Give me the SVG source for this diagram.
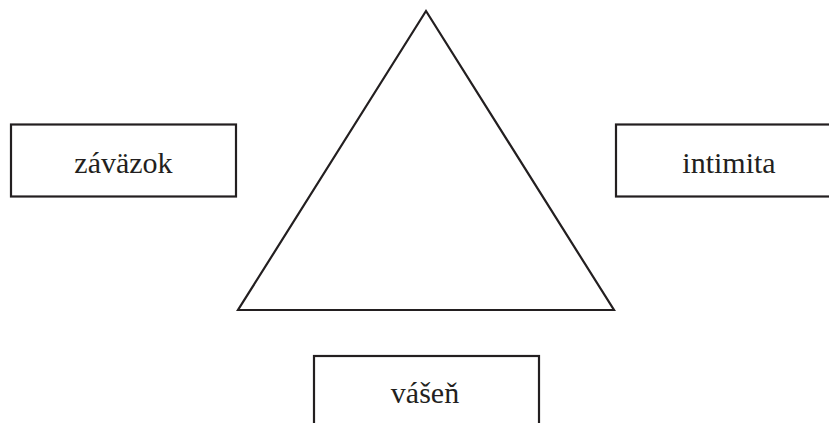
<svg xmlns="http://www.w3.org/2000/svg" width="829" height="423" viewBox="0 0 829 423">
<style>
.box{fill:#fff;stroke:#231f20;stroke-width:2.2}
.tri{fill:none;stroke:#231f20;stroke-width:2.2;stroke-linejoin:miter}
.lbl{font-family:"Liberation Serif","DejaVu Serif",serif;font-size:30px;fill:#231f20;text-anchor:middle}
</style>
<rect width="829" height="423" fill="#fff"/>
<g id="triangle"><polygon class="tri" points="426,11 238,310 614,310"/></g>
<g id="zavazok"><rect class="box" x="11" y="124.5" width="225" height="72"/><text class="lbl" x="123.5" y="173">záväzok</text></g>
<g id="intimita"><rect class="box" x="616" y="124.5" width="230" height="72"/><text class="lbl" x="729" y="173">intimita</text></g>
<g id="vasen"><rect class="box" x="314" y="356" width="225" height="80"/><text class="lbl" x="425" y="403">vášeň</text></g>
<g id="connectors"></g>
</svg>
